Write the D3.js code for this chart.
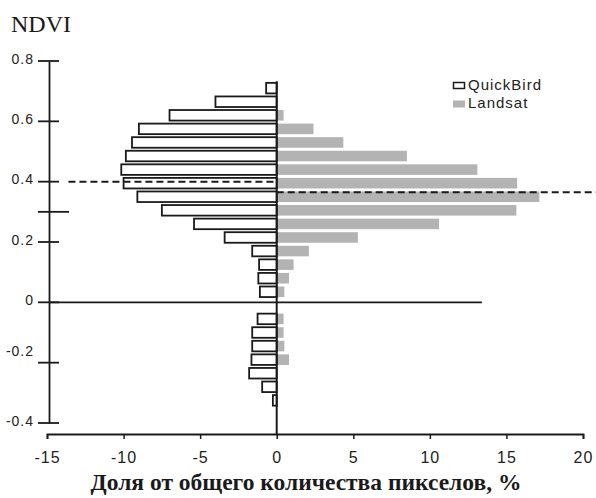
<!DOCTYPE html>
<html>
<head>
<meta charset="utf-8">
<script src="https://cdn.jsdelivr.net/npm/d3@7"></script>
<style>
  body { margin: 0; background: #fff; }
  svg { display: block; }
  .tick-label { font-family: "Liberation Sans", Arial, sans-serif; fill: #222; }
</style>
</head>
<body>
<div id="chart"></div>
<script>
// NDVI bin centres (rows of the histogram, top to bottom)
var ndviBins = [0.71, 0.665, 0.62, 0.575, 0.53, 0.485, 0.44, 0.395, 0.35, 0.305, 0.26, 0.215,
                0.17, 0.125, 0.08, 0.035, -0.01, -0.055, -0.1, -0.145, -0.19, -0.235, -0.28, -0.325];

// share of pixels, % (QuickBird drawn to the left, Landsat to the right)
var quickBird = [0.69, 4.0, 7.0, 9.0, 9.45, 9.85, 10.15, 10.0, 9.1, 7.5, 5.4, 3.4,
                 1.6, 1.15, 1.2, 1.1, 0, 1.25, 1.6, 1.6, 1.65, 1.8, 0.95, 0.25];
var landsat   = [0, 0, 0.45, 2.4, 4.35, 8.5, 13.1, 15.7, 17.15, 15.65, 10.6, 5.3,
                 2.1, 1.1, 0.8, 0.5, 0, 0.45, 0.45, 0.5, 0.8, 0, 0, 0];

// mean NDVI lines
var meanQuickBird = 0.4;
var meanLandsat = 0.365;

var xTicks = [-15, -10, -5, 0, 5, 10, 15, 20];
var yTicks = [-0.4, -0.2, 0, 0.2, 0.4, 0.6, 0.8];
var extraYTick = 0.3;

var seriesNames = ["QuickBird", "Landsat"];

// plain hyphen instead of the unicode minus d3 uses
function fmt(d, digits) {
  if (d === 0) return "0";
  return (d < 0 ? "-" : "") + Math.abs(d).toFixed(digits);
}

function init() {
  const width = 596, height = 498;
  const barColor = "#b3b3b3";
  const ink = "#1a1a1a";

  var svg = d3.select("#chart")
              .append("svg")
              .attr("width", width)
              .attr("height", height);

  // Scales
  var x = d3.scaleLinear().domain([-15, 20]).range([47, 583]);
  var y = d3.scaleLinear().domain([-0.4, 0.8]).range([423, 61]);

  var binThick = y(0) - y(0.035);
  var yAxisX = x(-15) + 2;

  // Bars - Landsat (grey, right)
  svg.append("g")
    .selectAll("rect")
    .data(ndviBins.map((b, i) => [b, landsat[i]]).filter(d => d[1] > 0))
    .enter()
    .append("rect")
      .attr("x", x(0))
      .attr("y", d => y(d[0]) - binThick / 2)
      .attr("width", d => x(d[1]) - x(0))
      .attr("height", binThick)
      .attr("fill", barColor);

  // Bars - QuickBird (outlined, left)
  svg.append("g")
    .selectAll("rect")
    .data(ndviBins.map((b, i) => [b, quickBird[i]]).filter(d => d[1] > 0))
    .enter()
    .append("rect")
      .attr("x", d => x(-d[1]))
      .attr("y", d => y(d[0]) - binThick / 2)
      .attr("width", d => x(0) - x(-d[1]))
      .attr("height", binThick)
      .attr("fill", "#fff")
      .attr("stroke", ink)
      .attr("stroke-width", 1.8);

  // Zero lines
  svg.append("line")
    .attr("x1", yAxisX).attr("x2", x(13.4))
    .attr("y1", y(0)).attr("y2", y(0))
    .attr("stroke", ink).attr("stroke-width", 1.8);

  svg.append("line")
    .attr("x1", x(0)).attr("x2", x(0))
    .attr("y1", y(0.733)).attr("y2", 434)
    .attr("stroke", ink).attr("stroke-width", 2);

  // Mean lines (dashed)
  svg.append("line")
    .attr("x1", x(-13.6)).attr("x2", x(-0.2))
    .attr("y1", y(meanQuickBird)).attr("y2", y(meanQuickBird))
    .attr("stroke", ink).attr("stroke-width", 2)
    .attr("stroke-dasharray", "7,4");

  svg.append("line")
    .attr("x1", x(0)).attr("x2", width)
    .attr("y1", y(meanLandsat)).attr("y2", y(meanLandsat))
    .attr("stroke", ink).attr("stroke-width", 2)
    .attr("stroke-dasharray", "7,4");

  // Y axis
  var yAxis = d3.axisLeft(y).tickValues(yTicks).tickSize(0).tickPadding(15)
                .tickFormat(d => fmt(d, 1));
  var gy = svg.append("g")
    .attr("transform", `translate(${yAxisX},0)`)
    .call(yAxis);
  gy.select(".domain").attr("stroke", ink).attr("stroke-width", 1.8);
  gy.selectAll("text")
    .attr("class", "tick-label")
    .style("font-size", "14px")
    .style("letter-spacing", "1px")
    .attr("dy", d => d === -0.2 ? "-0.5em" : "0.15em");

  // crossing tick marks
  svg.append("g")
    .selectAll("line")
    .data(yTicks.concat([extraYTick]))
    .enter()
    .append("line")
      .attr("x1", yAxisX - 11)
      .attr("x2", d => d === extraYTick ? yAxisX + 20 : yAxisX + 10)
      .attr("y1", d => y(d)).attr("y2", d => y(d))
      .attr("stroke", ink).attr("stroke-width", 1.8);

  // X axis
  var xAxis = d3.axisBottom(x).tickValues(xTicks).tickSizeInner(5).tickSizeOuter(5).tickPadding(13)
                .tickFormat(d => fmt(d, 0));
  var gx = svg.append("g")
    .attr("transform", "translate(0,434)")
    .call(xAxis);
  gx.select(".domain").attr("stroke", ink).attr("stroke-width", 1.8);
  gx.selectAll(".tick line").attr("stroke", ink).attr("stroke-width", 1.5);
  gx.selectAll("text")
    .attr("class", "tick-label")
    .style("font-size", "16px")
    .style("letter-spacing", "1px");

  // Titles
  svg.append("text")
    .attr("x", 11).attr("y", 32)
    .style("font-family", "'Liberation Serif', 'Times New Roman', serif")
    .style("font-size", "24px")
    .attr("fill", ink)
    .text("NDVI");

  svg.append("text")
    .attr("x", 306).attr("y", 490)
    .attr("text-anchor", "middle")
    .style("font-family", "'Liberation Serif', 'Times New Roman', serif")
    .style("font-size", "23.5px")
    .style("font-weight", "bold")
    .attr("fill", ink)
    .text("Доля от общего количества пикселов, %");

  // Legend
  var legend = svg.append("g").attr("transform", "translate(453,80)");
  legend.append("rect")
    .attr("x", 0.5).attr("y", 2.5).attr("width", 11).attr("height", 6)
    .attr("fill", "#fff").attr("stroke", ink).attr("stroke-width", 1.5);
  legend.append("rect")
    .attr("x", 0).attr("y", 20.5).attr("width", 12).attr("height", 7)
    .attr("fill", barColor);
  legend.selectAll("text.leg")
    .data(seriesNames)
    .enter()
    .append("text")
      .attr("class", "leg tick-label")
      .attr("x", 15)
      .attr("y", (d, i) => 10 + i * 18)
      .style("font-size", "15px")
      .style("letter-spacing", "1px")
      .text(d => d);
}

window.onload = init;
</script>
</body>
</html>
